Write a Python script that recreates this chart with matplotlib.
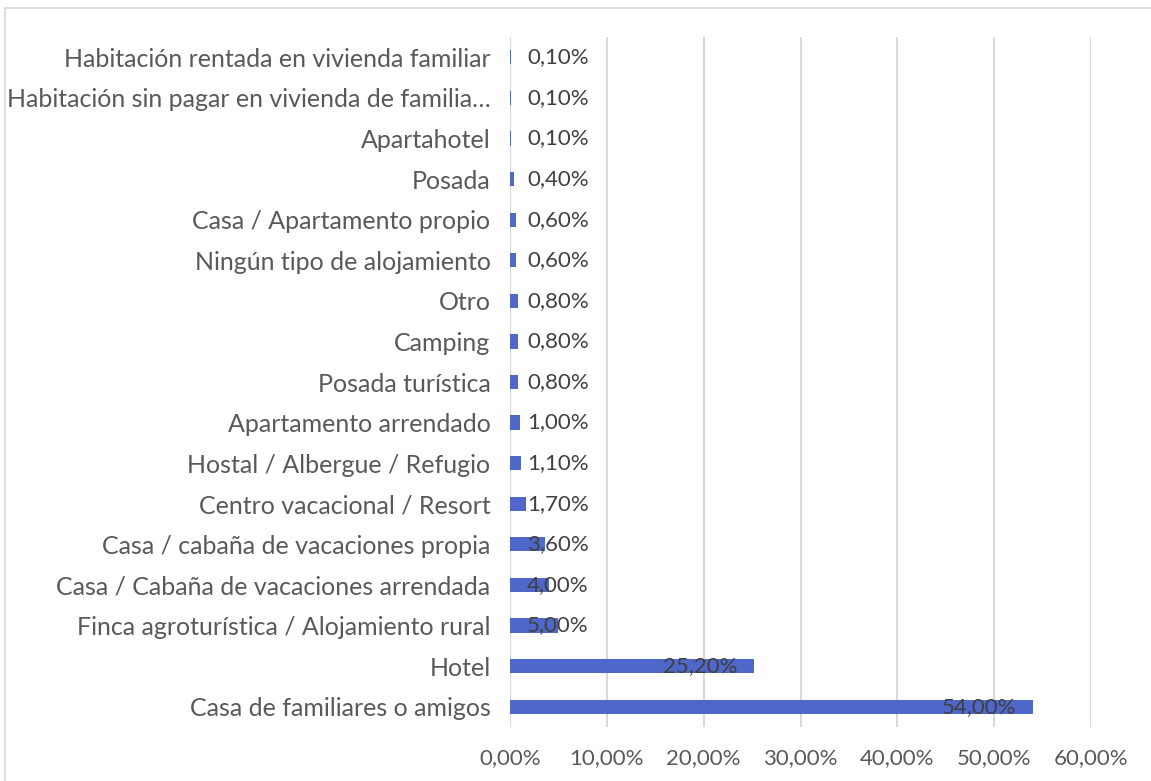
import matplotlib
matplotlib.use("Agg")
import matplotlib.pyplot as plt
from matplotlib.lines import Line2D

categories = [
    "Casa de familiares o amigos",
    "Hotel",
    "Finca agroturística / Alojamiento rural",
    "Casa / Cabaña de vacaciones arrendada",
    "Casa / cabaña de vacaciones propia",
    "Centro vacacional / Resort",
    "Hostal / Albergue / Refugio",
    "Apartamento arrendado",
    "Posada turística",
    "Camping",
    "Otro",
    "Ningún tipo de alojamiento",
    "Casa / Apartamento propio",
    "Posada",
    "Apartahotel",
    "Habitación sin pagar en vivienda de familia…",
    "Habitación rentada en vivienda familiar",
]
values = [54.0, 25.2, 5.0, 4.0, 3.6, 1.7, 1.1, 1.0, 0.8, 0.8, 0.8, 0.6, 0.6, 0.4, 0.1, 0.1, 0.1]
xticks = [0, 10, 20, 30, 40, 50, 60]

W, H = 1151, 781
DPI = 100
fig = plt.figure(figsize=(W / DPI, H / DPI), dpi=DPI)
FONT = "Lato"
plt.rcParams["font.family"] = [FONT, "DejaVu Sans"]

left, right, top, bottom = 510, 1091, 37, 727
ax = fig.add_axes([left / W, 1 - bottom / H, (right - left) / W, (bottom - top) / H])

bar_color = "#4F67C8"
y = list(range(len(categories)))
ax.barh(y, values, height=0.35, color=bar_color, zorder=3, linewidth=0)

ax.set_xlim(0, 60)
ax.set_ylim(-0.5, len(categories) - 0.5)
ax.set_xticks(xticks)
ax.set_xticklabels([f"{t:.2f}%".replace(".", ",") for t in xticks])
ax.set_yticks(y)
ax.set_yticklabels(categories)
ax.tick_params(axis="x", length=0, pad=15, labelsize=16, colors="#595959")
ax.tick_params(axis="y", length=0, pad=14, labelsize=18, colors="#595959")
ax.grid(axis="x", color="#D9D9D9", linewidth=1.5, zorder=0)
for s in ax.spines.values():
    s.set_visible(False)

# data labels: right-aligned ~17px inside bar end, but not left of axis+17px
fig.canvas.draw()
renderer = fig.canvas.get_renderer()
px_per_unit = (right - left) / 60.0
off_pt = 17 * 72 / DPI
LFS = 16
for yi, v in zip(y, values):
    lbl = f"{v:.2f}%".replace(".", ",")
    t = ax.text(0, yi, lbl, fontsize=LFS, color="#404040", va="center", ha="left", zorder=4)
    w = t.get_window_extent(renderer).width
    t.remove()
    bar_end_px = v * px_per_unit
    if bar_end_px - 17 - w >= 17:
        ax.annotate(lbl, xy=(v, yi), xytext=(-off_pt, 0), textcoords="offset points",
                    ha="right", va="center", fontsize=LFS, color="#404040", zorder=4)
    else:
        ax.annotate(lbl, xy=(0, yi), xytext=(off_pt, 0), textcoords="offset points",
                    ha="left", va="center", fontsize=LFS, color="#404040", zorder=4)

# chart area border (top and left visible)
fig.add_artist(Line2D([5 / W, 1], [1 - 8 / H, 1 - 8 / H], color="#D9D9D9", linewidth=1.2,
                      transform=fig.transFigure))
fig.add_artist(Line2D([5 / W, 5 / W], [0, 1 - 8 / H], color="#D9D9D9", linewidth=1.2,
                      transform=fig.transFigure))

fig.savefig("out.png", dpi=DPI)
